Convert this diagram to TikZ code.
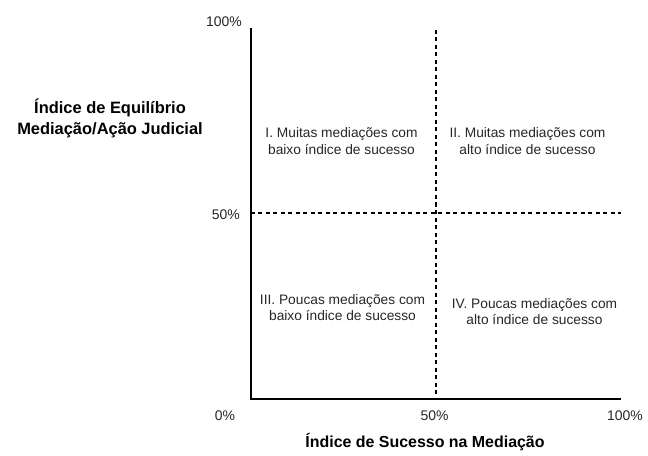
\documentclass[tikz,border=0pt]{standalone}
\usepackage{fontspec}
\setmainfont{Liberation Sans}
\begin{document}
\begin{tikzpicture}[x=1bp,y=-1bp,
  axisline/.style={line width=2bp},
  divline/.style={line width=2bp,dash pattern=on 4bp off 3.5bp},
  quad/.style={align=center,font=\fontsize{13.8}{16.5}\selectfont,text=black!85,inner sep=0pt},
  ticklab/.style={font=\fontsize{14}{16}\selectfont,text=black!85,inner sep=0pt},
  axtitle/.style={align=center,font=\fontsize{16.5}{21}\selectfont\bfseries,inner sep=0pt}]
\useasboundingbox (0,0) rectangle (648,456);
\coordinate (O) at (250.5,398.5);
\coordinate (T) at (250.5,28);
\coordinate (R) at (621,398.5);
\coordinate (vt) at (435.5,30);
\coordinate (vb) at (435.5,398.5);
\coordinate (hl) at (250.5,213);
\coordinate (hr) at (621,213);
\draw[divline] (vt) -- (vb);
\draw[divline] (hl) -- (hr);
\draw[axisline] (T) -- (O) -- (R);
\node[ticklab,anchor=east] (y100) at (242,22) {100\%};
\node[ticklab,anchor=east] (y50) at (240,215) {50\%};
\node[ticklab] (x0) at (225,416) {0\%};
\node[ticklab] (x50) at (434.5,416) {50\%};
\node[ticklab] (x100) at (625,416) {100\%};
\node[axtitle] (ytitle) at (110,118.5) {Índice de Equilíbrio\\Mediação/Ação Judicial};
\node[axtitle,font=\fontsize{16}{21}\selectfont\bfseries] (xtitle) at (425,442) {Índice de Sucesso na Mediação};
\node[quad] (q1) at (341.5,141) {I. Muitas mediações com\\baixo índice de sucesso};
\node[quad] (q2) at (527.5,141) {II. Muitas mediações com\\alto índice de sucesso};
\node[quad] (q3) at (342.5,307.5) {III. Poucas mediações com\\baixo índice de sucesso};
\node[quad] (q4) at (534.5,311.5) {IV. Poucas mediações com\\alto índice de sucesso};
\end{tikzpicture}
\end{document}
